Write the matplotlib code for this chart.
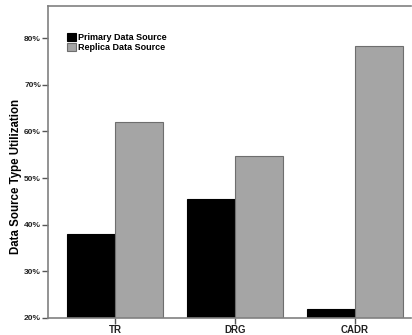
import matplotlib
matplotlib.use('Agg')
import matplotlib.pyplot as plt
import numpy as np

categories = ['TR', 'DRG', 'CADR']
primary = [38.1, 45.6, 21.9]
replica = [62.1, 54.7, 78.4]

plt.rcParams['font.family'] = ['Liberation Sans', 'DejaVu Sans']

fig = plt.figure(figsize=(4.12, 3.35), dpi=100)
ax = fig.add_axes([48/412, 17/335, 363/412, 312/335])

x = np.arange(len(categories))
w = 0.4
ax.bar(x - w/2, primary, w, color='black', edgecolor='black', linewidth=0.8, label='Primary Data Source')
ax.bar(x + w/2, replica, w, color='#a5a5a5', edgecolor='#6e6e6e', linewidth=0.8, label='Replica Data Source')

ax.set_ylim(20, 86.9)
ax.set_xlim(-0.56, 2.47)
ax.set_yticks(range(20, 81, 10))
ax.set_xticks(x)
ax.tick_params(axis='both', colors='#555555', length=4, width=1, pad=1, labelcolor='#222222')
ax.set_yticklabels(['%d%%' % v for v in range(20, 81, 10)], fontsize=6, fontweight='bold')
ax.set_xticklabels(categories, fontsize=7, fontweight='bold')
ax.set_ylabel('Data Source Type Utilization', fontsize=8.3, fontweight='bold')
ax.yaxis.set_label_coords(-0.071, 0.455)

for s in ['left', 'top', 'bottom']:
    ax.spines[s].set_color('#808080')
    ax.spines[s].set_linewidth(1.2)
ax.spines['right'].set_visible(False)

ax.legend(loc='upper left', bbox_to_anchor=(0.03, 0.94), frameon=False,
          handlelength=1.0, handleheight=1.0, handletextpad=0.2, labelspacing=0.1,
          prop={'weight': 'bold', 'size': 6.5})

fig.savefig('out.png', dpi=100)
